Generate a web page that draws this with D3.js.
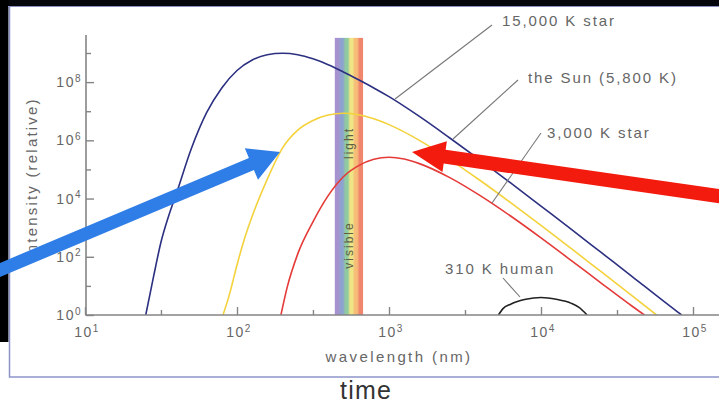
<!DOCTYPE html>
<html>
<head>
<meta charset="utf-8">
<script src="https://cdn.jsdelivr.net/npm/d3@7"></script>
<style>
  html, body { margin: 0; padding: 0; background: #fff; overflow: hidden; }
  svg { display: block; }
  text { font-family: "Liberation Sans", Arial, Helvetica, sans-serif; }
</style>
</head>
<body>
<svg id="chart" width="719" height="409"></svg>
<script>
// Blackbody spectra: wavelength (nm) and relative intensity as powers of ten
const star15000Wl  = [25.1, 28.2, 31.6, 35.5, 39.8, 50.1, 63.1, 79.4, 100, 126, 158, 200, 251, 316, 398, 501, 631, 794, 1000, 1585, 2512, 3981, 6310, 10000, 15849, 25119, 39811, 63096, 79433, 84140];
const star15000Exp = [0, 1.3, 2.5, 3.4, 4.15, 5.72, 6.95, 7.8, 8.4, 8.76, 8.94, 8.99, 8.94, 8.8, 8.6, 8.35, 8.08, 7.8, 7.5, 6.82, 6.08, 5.32, 4.54, 3.74, 2.94, 2.13, 1.32, 0.5, 0.1, 0];

const sunWl  = [80.9, 89.1, 100, 112, 126, 158, 200, 251, 316, 398, 501, 631, 794, 1000, 1585, 2512, 3981, 6310, 10000, 15849, 25119, 39811, 57544];
const sunExp = [0, 0.7, 1.72, 2.62, 3.4, 4.66, 5.75, 6.35, 6.68, 6.87, 6.93, 6.88, 6.74, 6.54, 6.0, 5.34, 4.62, 3.86, 3.08, 2.28, 1.47, 0.66, 0];

const star3000Wl  = [194.5, 213.8, 251, 316, 398, 501, 631, 794, 1000, 1259, 1585, 2512, 3981, 6310, 10000, 15849, 25119, 39811, 47863];
const star3000Exp = [0, 0.95, 2.1, 3.2, 4.1, 4.75, 5.13, 5.35, 5.42, 5.36, 5.2, 4.72, 4.1, 3.4, 2.65, 1.87, 1.08, 0.3, 0];

const humanWl  = [5248, 5623, 6310, 7943, 10000, 12589, 15849, 17783, 20091];
const humanExp = [0, 0.22, 0.37, 0.54, 0.6, 0.54, 0.4, 0.26, 0];

// Axis ticks
const xMajorTicks = [10, 100, 1000, 10000, 100000];
const xMinorTicks = [31.6, 316, 3162, 31623];
const xTickExps   = ["1", "2", "3", "4", "5"];
const yMajorTicks = [1, 1e2, 1e4, 1e6, 1e8];
const yMinorTicks = [10, 1e3, 1e5, 1e7, 1e9];
const yTickExps   = ["0", "2", "4", "6", "8"];

// Visible band (nm) and its colour stripes, violet to red
const visibleBand = [440, 675];
const visibleColors = ["#a692cf", "#8ea2cf", "#8fcaa0", "#efe585", "#f6bc78", "#f0876c"];

const labels = {
  hot: "15,000 K star",
  sun: "the Sun (5,800 K)",
  cool: "3,000 K star",
  human: "310 K human"
};

const svg = d3.select("#chart");
const W = 719, H = 409;

svg.append("rect").attr("width", W).attr("height", H).attr("fill", "#fff");

const x = d3.scaleLog().domain([10, 1e5]).range([85, 693]);
const y = d3.scaleLog().domain([1, 1e9]).range([315, 53]);
const axisTop = 35;
const gray = "#858585";
const textGray = "#666";

const defs = svg.append("defs");
defs.append("clipPath").attr("id", "plotClip")
  .append("rect").attr("x", 86).attr("y", 0).attr("width", W - 86).attr("height", 315);

// Visible-light band: soft-edged stripes
const grad = defs.append("linearGradient").attr("id", "rainbow")
  .attr("x1", "0%").attr("x2", "100%").attr("y1", "0%").attr("y2", "0%");
const n = visibleColors.length;
visibleColors.forEach((c, i) => {
  const a = i / n, b = (i + 1) / n, pad = 0.25 / n;
  grad.append("stop").attr("offset", (i === 0 ? a : a + pad) * 100 + "%").attr("stop-color", c);
  grad.append("stop").attr("offset", (i === n - 1 ? b : b - pad) * 100 + "%").attr("stop-color", c);
});
svg.append("rect")
  .attr("x", x(visibleBand[0]))
  .attr("width", x(visibleBand[1]) - x(visibleBand[0]))
  .attr("y", y(Math.pow(10, 9.52)))
  .attr("height", y(1) - y(Math.pow(10, 9.52)))
  .attr("fill", "url(#rainbow)");

const bandMid = (x(visibleBand[0]) + x(visibleBand[1])) / 2;
[["light", 143], ["visible", 245]].forEach(([t, cy]) => {
  svg.append("text")
    .attr("transform", `translate(${bandMid + 4},${cy}) rotate(-90)`)
    .attr("text-anchor", "middle")
    .attr("font-size", 12)
    .attr("letter-spacing", 2)
    .attr("fill", "#5f5e45")
    .text(t);
});

// Spectra
const line = d3.line()
  .x(d => x(d.wl))
  .y(d => y(Math.pow(10, d.e)))
  .curve(d3.curveMonotoneX);

const series = [
  { wl: star15000Wl, e: star15000Exp, color: "#2c3080" },
  { wl: sunWl, e: sunExp, color: "#f4d23c" },
  { wl: star3000Wl, e: star3000Exp, color: "#e43a38" },
  { wl: humanWl, e: humanExp, color: "#222222" }
];
const curves = svg.append("g").attr("clip-path", "url(#plotClip)");
series.forEach(s => {
  const pts = s.wl.map((w, i) => ({ wl: w, e: s.e[i] }));
  curves.append("path").attr("d", line(pts))
    .attr("fill", "none").attr("stroke", s.color).attr("stroke-width", 1.6);
});

// Axes (ticks point into the plot)
const xAxisG = svg.append("g").attr("transform", "translate(0,315)");
xAxisG.call(d3.axisBottom(x).tickValues(xMajorTicks).tickSize(-8).tickSizeOuter(0).tickFormat(""));
const xMinorG = svg.append("g").attr("transform", "translate(0,315)");
xMinorG.call(d3.axisBottom(x).tickValues(xMinorTicks).tickSize(-5).tickSizeOuter(0).tickFormat(""));
const yAxisG = svg.append("g").attr("transform", "translate(86,0)");
yAxisG.call(d3.axisLeft(y).tickValues(yMajorTicks).tickSize(-8).tickSizeOuter(0).tickFormat(""));
const yMinorG = svg.append("g").attr("transform", "translate(86,0)");
yMinorG.call(d3.axisLeft(y).tickValues(yMinorTicks).tickSize(-5).tickSizeOuter(0).tickFormat(""));
[xAxisG, xMinorG, yAxisG, yMinorG].forEach(g => {
  g.select(".domain").remove();
  g.selectAll(".tick line").attr("stroke", gray).attr("stroke-width", 1.4);
});
svg.append("line").attr("x1", 86).attr("x2", W).attr("y1", 315).attr("y2", 315)
  .attr("stroke", gray).attr("stroke-width", 1.6);
svg.append("line").attr("x1", 86).attr("x2", 86).attr("y1", axisTop).attr("y2", 315.8)
  .attr("stroke", gray).attr("stroke-width", 1.6);

function powerLabel(sel, exp) {
  sel.append("tspan").text("10");
  sel.append("tspan").attr("font-size", 10).attr("dy", -5.5).text(exp);
}
xMajorTicks.forEach((v, i) => {
  svg.append("text")
    .attr("x", x(v) + 2).attr("y", 337)
    .attr("text-anchor", "middle")
    .attr("font-size", 14).attr("letter-spacing", 1.5)
    .attr("fill", textGray)
    .call(powerLabel, xTickExps[i]);
});
yMajorTicks.forEach((v, i) => {
  svg.append("text")
    .attr("x", 82).attr("y", y(v) + 5)
    .attr("text-anchor", "end")
    .attr("font-size", 14).attr("letter-spacing", 1.5)
    .attr("fill", textGray)
    .call(powerLabel, yTickExps[i]);
});

svg.append("text")
  .attr("transform", "translate(37,178) rotate(-90)")
  .attr("text-anchor", "middle")
  .attr("font-size", 15).attr("letter-spacing", 2.2)
  .attr("fill", textGray)
  .text("intensity (relative)");

svg.append("text")
  .attr("x", 399).attr("y", 362)
  .attr("text-anchor", "middle")
  .attr("font-size", 15).attr("letter-spacing", 2.4)
  .attr("fill", textGray)
  .text("wavelength (nm)");

// Curve annotations with leader lines
const notes = [
  { text: labels.hot,   tx: 502, ty: 26,  l: [395, 99, 492, 25] },
  { text: labels.sun,   tx: 528, ty: 83,  l: [453, 139, 518, 80] },
  { text: labels.cool,  tx: 547, ty: 138, l: [492, 203, 541, 133] },
  { text: labels.human, tx: 445, ty: 274, l: [520, 297, 503, 278] }
];
notes.forEach(nt => {
  svg.append("line")
    .attr("x1", nt.l[0]).attr("y1", nt.l[1]).attr("x2", nt.l[2]).attr("y2", nt.l[3])
    .attr("stroke", "#777").attr("stroke-width", 1.1);
  svg.append("text")
    .attr("x", nt.tx).attr("y", nt.ty)
    .attr("font-size", 15).attr("letter-spacing", 1.9)
    .attr("fill", textGray)
    .text(nt.text);
});

// Slide frame
svg.append("rect").attr("x", 0).attr("y", 0).attr("width", W).attr("height", 6).attr("fill", "#05050c");
svg.append("rect").attr("x", 0).attr("y", 0).attr("width", 8.5).attr("height", 342).attr("fill", "#000");
svg.append("line").attr("x1", 8).attr("x2", W).attr("y1", 6.5).attr("y2", 6.5)
  .attr("stroke", "#8890c4").attr("stroke-width", 1.2);
svg.append("line").attr("x1", 9.5).attr("x2", 9.5).attr("y1", 6).attr("y2", 377.5)
  .attr("stroke", "#8d95c8").attr("stroke-width", 1.5);
svg.append("line").attr("x1", 9).attr("x2", W).attr("y1", 377).attr("y2", 377)
  .attr("stroke", "#8d95c8").attr("stroke-width", 1.5);

svg.append("text")
  .attr("x", 366).attr("y", 399)
  .attr("text-anchor", "middle")
  .attr("font-size", 25).attr("letter-spacing", 1.2)
  .attr("fill", "#333")
  .text("time");

// Overlay arrows pointing at the curve peaks
function arrow(x0, y0, x1, y1, headLen, headHalf, shaftHalf, color) {
  const dx = x1 - x0, dy = y1 - y0, len = Math.hypot(dx, dy);
  const ux = dx / len, uy = dy / len, px = -uy, py = ux;
  const bx = x1 - ux * headLen, by = y1 - uy * headLen;
  const pts = [
    [x0 + px * shaftHalf, y0 + py * shaftHalf],
    [bx + px * shaftHalf, by + py * shaftHalf],
    [bx + px * headHalf, by + py * headHalf],
    [x1, y1],
    [bx - px * headHalf, by - py * headHalf],
    [bx - px * shaftHalf, by - py * shaftHalf],
    [x0 - px * shaftHalf, y0 - py * shaftHalf]
  ];
  svg.append("polygon").attr("points", pts.map(p => p.join(",")).join(" ")).attr("fill", color);
}
arrow(-12, 275, 280, 152, 31, 17, 6.5, "#2f7de6");
arrow(732, 198, 412, 152, 33, 15.5, 7, "#f31a0e");
</script>
</body>
</html>
